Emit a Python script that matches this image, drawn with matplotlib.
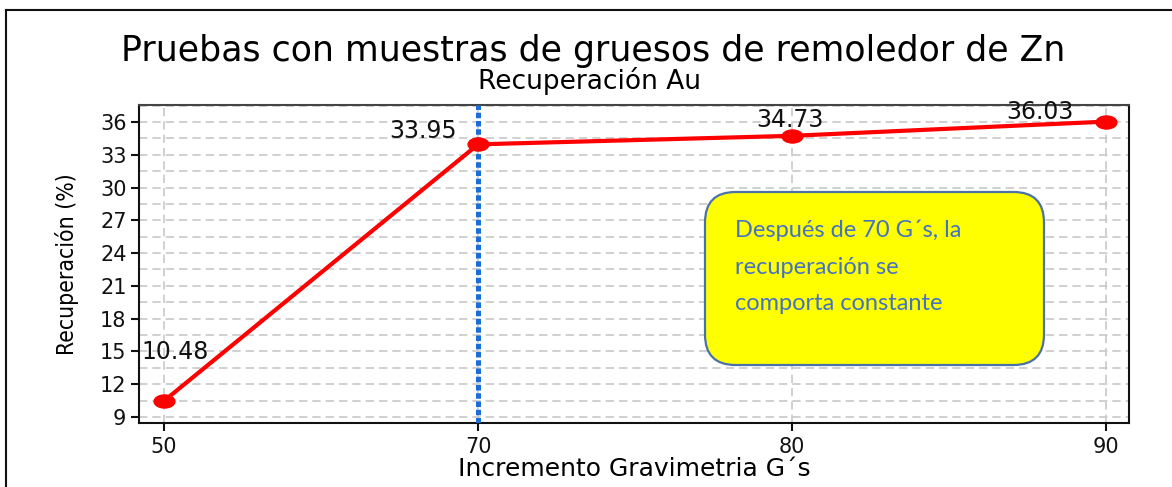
import matplotlib
matplotlib.use("Agg")
import matplotlib.pyplot as plt
from matplotlib.patches import FancyBboxPatch
from matplotlib.lines import Line2D
from matplotlib.path import Path
from matplotlib.transforms import Affine2D
from matplotlib.ticker import MultipleLocator

# Datos: recuperación de Au según incremento gravimétrico
g_labels = ["50", "70", "80", "90"]
recuperacion = [10.48, 33.95, 34.73, 36.03]
label_offsets = [(11, 49), (-55, 13), (-2, 16), (-66, 10)]  # desplazamiento de etiquetas en px

fig = plt.figure(figsize=(11.72, 4.87), dpi=100)
ax = fig.add_axes([139 / 1172, 1 - 423 / 487, (1129 - 139) / 1172, (423 - 105) / 487])

xpos = list(range(len(g_labels)))

# marcador elíptico
ellipse = Path.unit_circle().transformed(Affine2D().scale(1.6, 1.0))

ax.plot(xpos, recuperacion, color="#ff0000", lw=3, marker=ellipse, markersize=15,
        markerfacecolor="#ff0000", markeredgecolor="#ff0000", zorder=5)

# línea vertical en 70 G's
ax.axvline(1, color="#1a6fd6", lw=3.6, linestyle=(0, (1.1, 0.55)), zorder=4)

for x, v, off in zip(xpos, recuperacion, label_offsets):
    ax.annotate(f"{v:.2f}", (x, v), xytext=off, textcoords="offset pixels",
                ha="center", va="center", fontsize=17, color="#111111", zorder=6)

ax.set_xlim(-0.08, 3.073)
ax.set_ylim(8.45, 37.55)
ax.set_xticks(xpos)
ax.set_xticklabels(g_labels)
ax.yaxis.set_major_locator(MultipleLocator(3))
ax.yaxis.set_minor_locator(MultipleLocator(1.5))
ax.tick_params(axis="both", which="major", labelsize=15, length=6, width=1.5,
               direction="out", colors="#111111")
ax.tick_params(axis="y", which="minor", length=0)
ax.tick_params(axis="y", pad=3)
ax.tick_params(axis="x", pad=4)

ax.grid(True, which="both", axis="y", color="#c8c8c8", linestyle=(0, (5, 3)), lw=1.2)
ax.grid(True, which="major", axis="x", color="#c8c8c8", linestyle=(0, (5, 3)), lw=1.2)
ax.set_axisbelow(True)

for side in ["left", "bottom", "right"]:
    ax.spines[side].set_linewidth(1.5)
    ax.spines[side].set_color("#111111")
ax.spines["top"].set_linewidth(1.5)
ax.spines["top"].set_color("#444444")

ax.set_xlabel("Incremento Gravimetria G´s", fontsize=18, labelpad=0)
ax.set_ylabel("Recuperación (%)", fontsize=16.5, labelpad=15,
              family="DejaVu Sans", fontstretch="condensed")

fig.text(0.506, 1 - 51 / 487, "Pruebas con muestras de gruesos de remoledor de Zn",
         ha="center", va="center", fontsize=25)
fig.text(0.503, 1 - 81 / 487, "Recuperación Au", ha="center", va="center", fontsize=19)

# cuadro de comentario
bx0, bx1 = 705 / 1172, 1044 / 1172
by0, by1 = 1 - 365 / 487, 1 - 192 / 487
box = FancyBboxPatch((bx0, by0), bx1 - bx0, by1 - by0, transform=fig.transFigure,
                     boxstyle="round,pad=0,rounding_size=0.026",
                     mutation_aspect=1172 / 487,
                     facecolor="#ffff00", edgecolor="#4a72a8", lw=1.6, zorder=10)
fig.patches.append(box)
fig.text(735 / 1172, 1 - 267 / 487,
         "Después de 70 G´s, la\nrecuperación se\ncomporta constante",
         ha="left", va="center", fontsize=17, color="#4472c4", family="Lato",
         linespacing=1.9, zorder=11)

# marco exterior
fig.add_artist(Line2D([6 / 1172, 1], [1 - 10 / 487, 1 - 10 / 487], transform=fig.transFigure,
                      color="#111111", lw=1.5))
fig.add_artist(Line2D([6 / 1172, 6 / 1172], [0, 1 - 10 / 487], transform=fig.transFigure,
                      color="#111111", lw=1.5))

fig.savefig("out.png", dpi=100)
